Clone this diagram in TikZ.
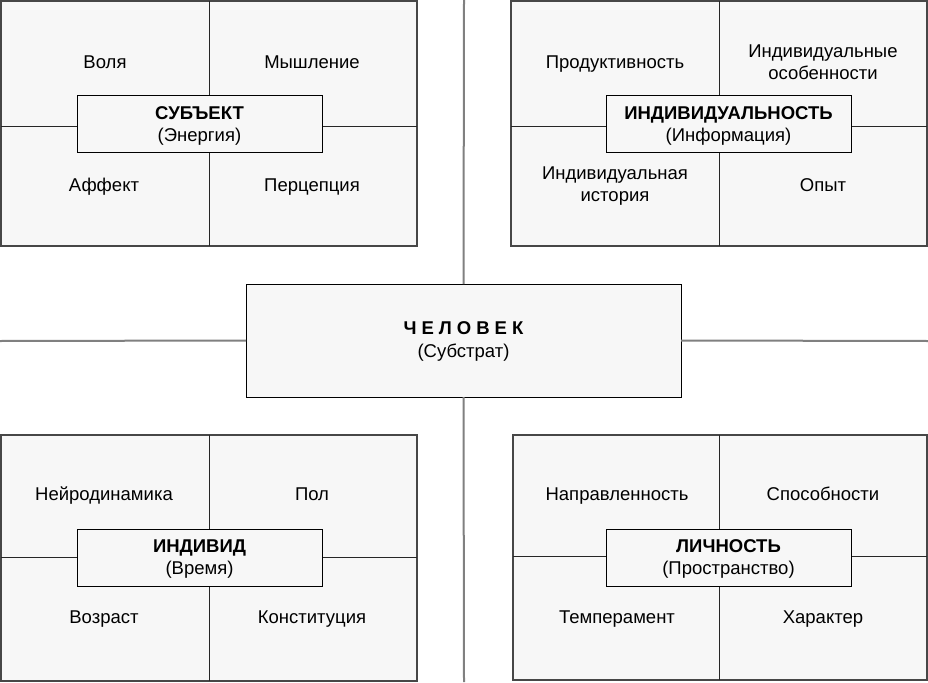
\documentclass[tikz,border=0pt]{standalone}
\usepackage{fontspec}
\setmainfont{Liberation Sans}
\tikzset{
  frame/.style={draw=black!72, fill=black!3, line width=1.2pt, minimum width=416pt, minimum height=245pt, inner sep=0pt, outer sep=0pt},
  titlebox/.style={draw=black, fill=black!3, line width=1pt, minimum width=245pt, minimum height=56pt, inner sep=0pt, outer sep=0pt, align=center, text depth=0pt, font=\fontsize{18.5}{22}\selectfont},
  mainbox/.style={draw=black, fill=black!3, line width=1pt, minimum width=435pt, minimum height=113pt, inner sep=0pt, outer sep=0pt, align=center, text depth=1pt, font=\fontsize{18.5}{23}\selectfont},
  cell/.style={align=center, font=\fontsize{18.5}{22}\selectfont, inner sep=0pt, text height=13.2pt, text depth=0pt},
  cellb/.style={align=center, font=\fontsize{18.5}{22}\selectfont, inner sep=0pt, text depth=0pt},
  divider/.style={draw=black!85, line width=1pt},
  link/.style={draw=black!50, line width=2pt},
}
\begin{document}
\begin{tikzpicture}[x=1pt,y=-1pt]
\useasboundingbox (0,0) rectangle (928,682);
\fill[white] (0,0) rectangle (928,682);
% free ends of connectors
\coordinate (top) at (464,0);
\coordinate (bot) at (464,682);
\coordinate (lft) at (0,341);
\coordinate (rgt) at (928,341);
% central node
\node[mainbox] (man) at (463.5,340.5) {\textbf{Ч\kern5ptЕ\kern5ptЛ\kern5ptО\kern5ptВ\kern5ptЕ\kern5ptК}\\(Субстрат)};
% connectors
\draw[link] (top) -- (man.north);
\draw[link] (man.south) -- (bot);
\draw[link] (lft) -- (man.west);
\draw[link] (man.east) -- (rgt);
% frames
\node[frame] (tl) at (209,123.5) {};
\node[frame] (tr) at (719,123.5) {};
\node[frame, minimum height=246pt] (bl) at (209,558) {};
\node[frame, minimum width=414pt] (br) at (720,557.5) {};
% dividers
\draw[divider] (tl.north) -- (tl.south);
\draw[divider] ([yshift=-2.5pt]tl.west) -- ([yshift=-2.5pt]tl.east);
\draw[divider] (tr.north) -- (tr.south);
\draw[divider] ([yshift=-2.5pt]tr.west) -- ([yshift=-2.5pt]tr.east);
\draw[divider] (bl.north) -- (bl.south);
\draw[divider] ([yshift=1pt]bl.west) -- ([yshift=1pt]bl.east);
\draw[divider] ([xshift=-1pt]br.north) -- ([xshift=-1pt]br.south);
\draw[divider] ([yshift=1.5pt]br.west) -- ([yshift=1.5pt]br.east);
% cell labels
\node[cell] (c1) at (105,62) {Воля};
\node[cell] (c2) at (312,62) {Мышление};
\node[cell] (c3) at (104,185) {Аффект};
\node[cell] (c4) at (312,185) {Перцепция};
\node[cell] (c5) at (615,62) {Продуктивность};
\node[cellb] (c6) at (823,62) {Индивидуальные\\особенности};
\node[cellb] (c7) at (615,184.5) {Индивидуальная\\история};
\node[cell] (c8) at (823,185) {Опыт};
\node[cell] (c9) at (104,494) {Нейродинамика};
\node[cell] (c10) at (312,494) {Пол};
\node[cell] (c11) at (104,617) {Возраст};
\node[cell] (c12) at (312,617) {Конституция};
\node[cell] (c13) at (617,494) {Направленность};
\node[cell] (c14) at (823,494) {Способности};
\node[cell] (c15) at (617,617) {Темперамент};
\node[cell] (c16) at (823,617) {Характер};
% title boxes
\node[titlebox] (subj) at (199.5,124) {\textbf{СУБЪЕКТ}\\(Энергия)};
\node[titlebox] (indl) at (728.5,124) {\textbf{ИНДИВИДУАЛЬНОСТЬ}\\(Информация)};
\node[titlebox, minimum height=57pt] (indv) at (199.5,557.5) {\textbf{ИНДИВИД}\\(Время)};
\node[titlebox, minimum height=57pt] (pers) at (728.5,557.5) {\textbf{ЛИЧНОСТЬ}\\(Пространство)};
\end{tikzpicture}
\end{document}
